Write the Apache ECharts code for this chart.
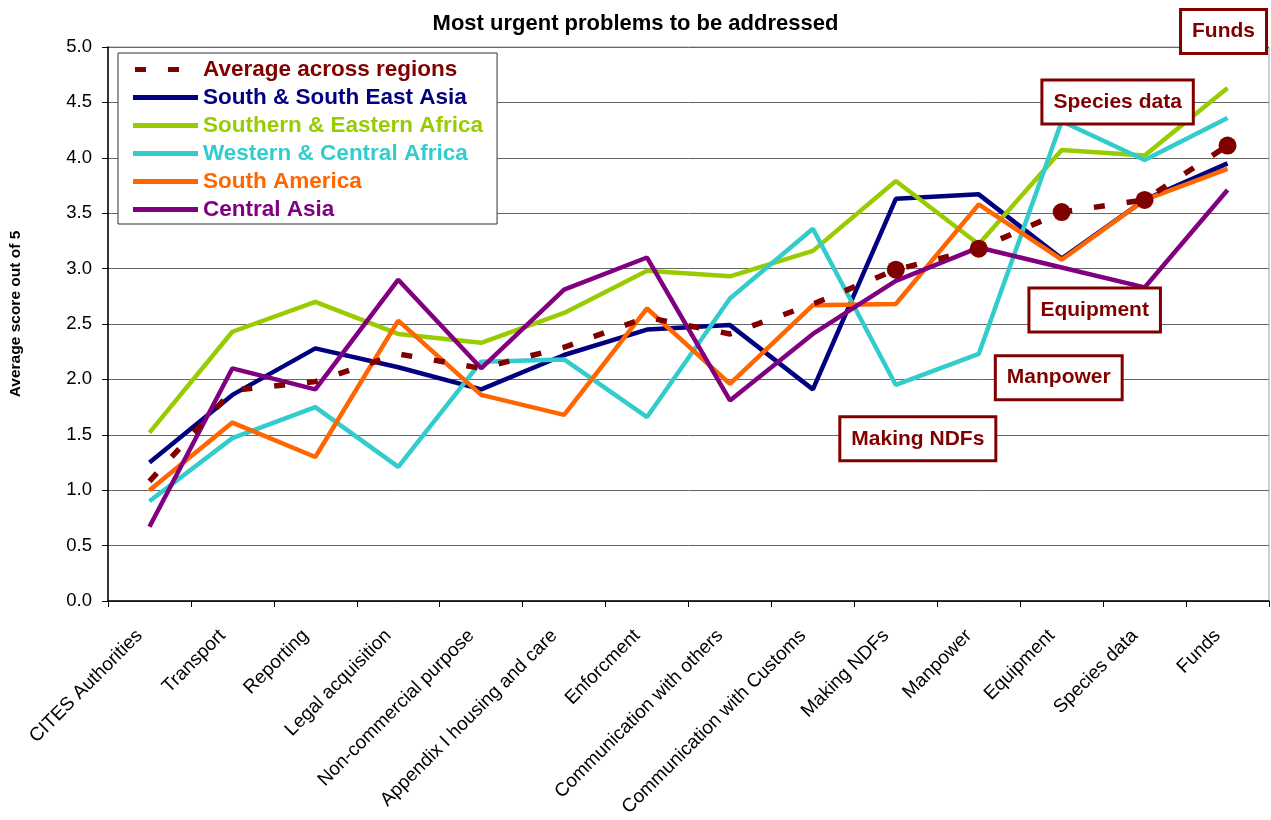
<!DOCTYPE html>
<html>
<head>
<meta charset="utf-8">
<title>Most urgent problems to be addressed</title>
<script src="https://cdn.jsdelivr.net/npm/echarts@6/dist/echarts.min.js"></script>
<style>
  html, body { margin: 0; padding: 0; background: #fff; }
  #chart { width: 1271px; height: 820px; }
</style>
</head>
<body>
<div id="chart"></div>
<script>
// categories along the x axis
const categories = ['CITES Authorities', 'Transport', 'Reporting', 'Legal acquisition', 'Non-commercial purpose',
  'Appendix I housing and care', 'Enforcment', 'Communication with others', 'Communication with Customs',
  'Making NDFs', 'Manpower', 'Equipment', 'Species data', 'Funds']

// average score out of 5
const average = [1.08, 1.90, 1.98, 2.23, 2.10, 2.29, 2.56, 2.41, 2.68, 2.99, 3.18, 3.51, 3.62, 4.11]
const southSouthEastAsia = [1.25, 1.86, 2.28, 2.11, 1.91, 2.22, 2.45, 2.49, 1.91, 3.63, 3.67, 3.09, 3.62, 3.95]
const southernEasternAfrica = [1.52, 2.43, 2.70, 2.41, 2.33, 2.60, 2.98, 2.93, 3.16, 3.79, 3.22, 4.07, 4.02, 4.63]
const westernCentralAfrica = [0.90, 1.47, 1.75, 1.21, 2.16, 2.18, 1.66, 2.73, 3.36, 1.95, 2.23, 4.33, 3.98, 4.36]
const southAmerica = [1.00, 1.61, 1.30, 2.53, 1.86, 1.68, 2.64, 1.96, 2.67, 2.68, 3.58, 3.08, 3.62, 3.90]
const centralAsia = [0.67, 2.10, 1.91, 2.90, 2.10, 2.81, 3.10, 1.81, 2.41, 2.89, 3.19, 3.01, 2.83, 3.71]

// y axis ticks
const yMin = 0
const yMax = 5
const yStep = 0.5

// the five top problems that get a dot and a callout box
const highlighted = ['Making NDFs', 'Manpower', 'Equipment', 'Species data', 'Funds']

const font = 'Arial, "Liberation Sans", sans-serif'
const darkRed = '#800000'

// where each callout box sits relative to its dot (px)
const calloutOffsets = {
  'Making NDFs': [22, 169],
  'Manpower': [80, 129],
  'Equipment': [33, 98],
  'Species data': [-27, -98],
  'Funds': [-4, -114]
}

// legend icons: thick solid bar, and two dashes for the average (tiny corner triangles keep the 65x5 box)
const solidIcon = 'path://M0,0H65V5H0Z'
const dashIcon = 'path://M0,0L0.01,0L0,0.01Z M2,0H13V5H2Z M35,0H46V5H35Z M65,5L64.99,5L65,4.99Z'

const regions = [
  { name: 'South & South East Asia', data: southSouthEastAsia, color: '#000080' },
  { name: 'Southern & Eastern Africa', data: southernEasternAfrica, color: '#99CC00' },
  { name: 'Western & Central Africa', data: westernCentralAfrica, color: '#33CCCC' },
  { name: 'South America', data: southAmerica, color: '#FF6600' },
  { name: 'Central Asia', data: centralAsia, color: '#800080' }
]

const chartInstance = echarts.init(document.getElementById('chart'))

// average line: dots + boxed labels only on the highlighted problems
const averageData = average.map((v, i) => {
  const cat = categories[i]
  if (highlighted.indexOf(cat) < 0) return v
  return {
    value: v,
    symbol: 'circle',
    symbolSize: 18,
    label: {
      show: true,
      position: 'inside',
      offset: calloutOffsets[cat],
      formatter: cat,
      color: darkRed,
      fontFamily: font,
      fontSize: 21,
      fontWeight: 'bold',
      backgroundColor: '#fff',
      borderColor: darkRed,
      borderWidth: 3,
      padding: [10, 10, 10, 10]
    }
  }
})

const series = regions.map(r => ({
  name: r.name,
  type: 'line',
  data: r.data,
  symbol: 'none',
  lineStyle: { color: r.color, width: 4.5 },
  itemStyle: { color: r.color },
  emphasis: { disabled: true }
}))

series.push({
  name: 'Average across regions',
  type: 'line',
  data: averageData,
  symbol: 'none',
  showAllSymbol: true,
  z: 10,
  lineStyle: { color: darkRed, width: 5.5, type: [11, 22] },
  itemStyle: { color: darkRed },
  emphasis: { disabled: true }
})

const legendItems = [{ name: 'Average across regions', color: darkRed, icon: dashIcon }]
  .concat(regions.map(r => ({ name: r.name, color: r.color, icon: solidIcon })))

const initOption = {
  animation: false,
  backgroundColor: '#fff',
  title: {
    text: 'Most urgent problems to be addressed',
    left: 'center',
    top: 8,
    textStyle: { fontFamily: font, fontSize: 22, fontWeight: 'bold', color: '#000' }
  },
  grid: {
    left: 107,
    right: 2,
    top: 47,
    bottom: 219,
    show: true,
    borderColor: '#a0a0a0',
    borderWidth: 1
  },
  legend: {
    orient: 'vertical',
    left: 118,
    top: 53,
    padding: [5, 14, 3, 15],
    borderColor: '#333',
    borderWidth: 1,
    backgroundColor: '#fff',
    itemWidth: 65,
    itemHeight: 5,
    itemGap: 5,
    selectedMode: false,
    textStyle: { fontFamily: font, fontSize: 22.5, fontWeight: 'bold', lineHeight: 22 },
    data: legendItems.map(it => ({ name: it.name, icon: it.icon, textStyle: { color: it.color } }))
  },
  xAxis: {
    type: 'category',
    data: categories,
    boundaryGap: true,
    axisLine: { lineStyle: { color: '#000', width: 1.5 } },
    axisTick: { show: true, length: 6, lineStyle: { color: '#000' } },
    axisLabel: {
      interval: 0,
      rotate: 45,
      margin: 22,
      padding: [0, 14, 0, 0],
      fontFamily: font,
      fontSize: 19,
      color: '#000'
    }
  },
  yAxis: {
    type: 'value',
    min: yMin,
    max: yMax,
    interval: yStep,
    name: 'Average score out of 5',
    nameLocation: 'middle',
    nameGap: 84,
    nameTextStyle: { fontFamily: font, fontSize: 15.5, fontWeight: 'bold', color: '#000', padding: [0, 0, 0, 20] },
    axisLine: { show: true, lineStyle: { color: '#000', width: 1.5 } },
    axisTick: { show: true, length: 6, lineStyle: { color: '#000' } },
    axisLabel: {
      margin: 16,
      fontFamily: font,
      fontSize: 18.5,
      color: '#000',
      formatter: v => v.toFixed(1)
    },
    splitLine: { show: true, lineStyle: { color: '#666', width: 1 } }
  },
  series: series
}

chartInstance.setOption(initOption)
</script>
</body>
</html>
